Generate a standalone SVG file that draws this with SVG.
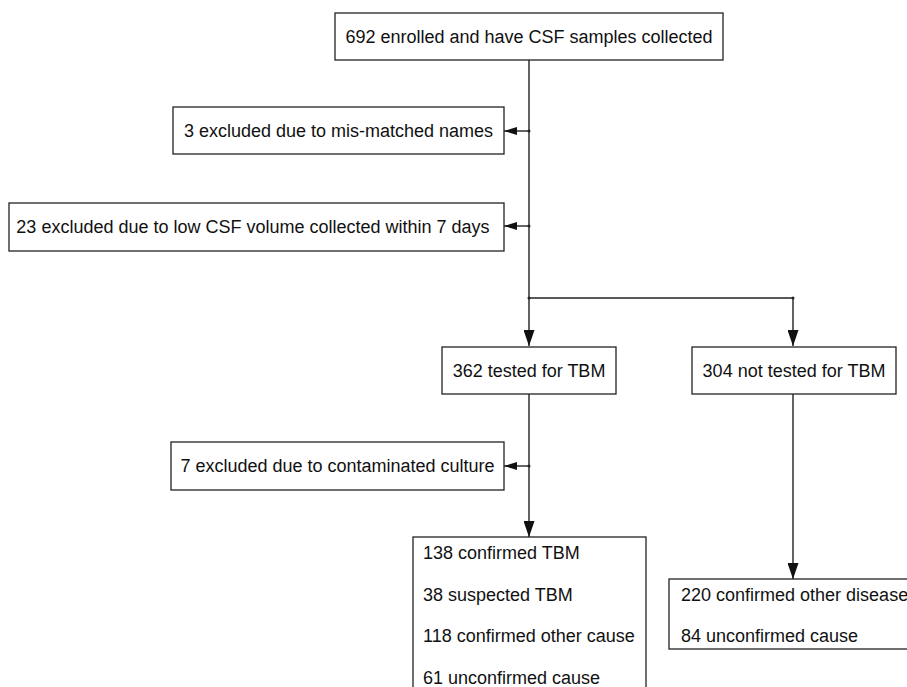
<svg xmlns="http://www.w3.org/2000/svg" width="907" height="687" viewBox="0 0 907 687">
<style>
.box{fill:#fff;stroke:#222;stroke-width:1.3}
.t{font-family:"Liberation Sans",Arial,sans-serif;font-size:18px;fill:#111}
.c{text-anchor:middle}
.ln{fill:none;stroke:#222;stroke-width:1.4}
.dot{fill:#222}
</style>
<defs>
<marker id="ah" viewBox="0 0 16 11" refX="16" refY="5.5" markerWidth="16" markerHeight="11" markerUnits="userSpaceOnUse" orient="auto">
<path d="M0,0 L16,5.5 L0,11 Z" fill="#111"/>
</marker>
<marker id="as" viewBox="0 0 13 8" refX="13" refY="4" markerWidth="13" markerHeight="8" markerUnits="userSpaceOnUse" orient="auto">
<path d="M0,0 L13,4 L0,8 Z" fill="#111"/>
</marker>
</defs>
<rect width="907" height="687" fill="#fff"/>
<g id="connectors">
<path class="ln" d="M529,60 V298"/>
<path class="ln" d="M529,298 H793"/>
<path class="ln" d="M529,298 V346" marker-end="url(#ah)"/>
<path class="ln" d="M793,298 V346" marker-end="url(#ah)"/>
<path class="ln" d="M529,131 H504" marker-end="url(#as)"/>
<path class="ln" d="M529,226 H504" marker-end="url(#as)"/>
<path class="ln" d="M529,394 V537" marker-end="url(#ah)"/>
<path class="ln" d="M529,466 H504" marker-end="url(#as)"/>
<path class="ln" d="M793,394 V579" marker-end="url(#ah)"/>
<circle class="dot" cx="529" cy="131" r="1.5"/>
<circle class="dot" cx="529" cy="226" r="1.5"/>
<circle class="dot" cx="529" cy="298" r="1.5"/>
<circle class="dot" cx="793" cy="298" r="1.5"/>
<circle class="dot" cx="529" cy="466" r="1.5"/>
</g>
<g id="enrolled">
<rect class="box" x="335" y="13" width="388" height="47"/>
<text class="t c" x="529" y="43">692 enrolled and have CSF samples collected</text>
</g>
<g id="excl-names">
<rect class="box" x="173" y="107" width="331" height="47"/>
<text class="t c" x="338.5" y="137">3 excluded due to mis-matched names</text>
</g>
<g id="excl-volume">
<rect class="box" x="9" y="203" width="495" height="48"/>
<text class="t c" x="253" y="233">23 excluded due to low CSF volume collected within 7 days</text>
</g>
<g id="tested">
<rect class="box" x="442" y="347" width="174" height="47"/>
<text class="t c" x="529" y="377">362 tested for TBM</text>
</g>
<g id="not-tested">
<rect class="box" x="692" y="347" width="204" height="47"/>
<text class="t c" x="794" y="377">304 not tested for TBM</text>
</g>
<g id="excl-contaminated">
<rect class="box" x="171" y="442" width="333" height="48"/>
<text class="t c" x="337.5" y="472">7 excluded due to contaminated culture</text>
</g>
<g id="tested-outcomes">
<rect class="box" x="413" y="537" width="233" height="170"/>
<text class="t" x="423" y="559">138 confirmed TBM</text>
<text class="t" x="423" y="601">38 suspected TBM</text>
<text class="t" x="423" y="642">118 confirmed other cause</text>
<text class="t" x="423" y="684">61 unconfirmed cause</text>
</g>
<g id="not-tested-outcomes">
<rect class="box" x="669" y="579" width="260" height="70"/>
<text class="t" x="681" y="601">220 confirmed other disease</text>
<text class="t" x="681" y="642">84 unconfirmed cause</text>
</g>
</svg>
